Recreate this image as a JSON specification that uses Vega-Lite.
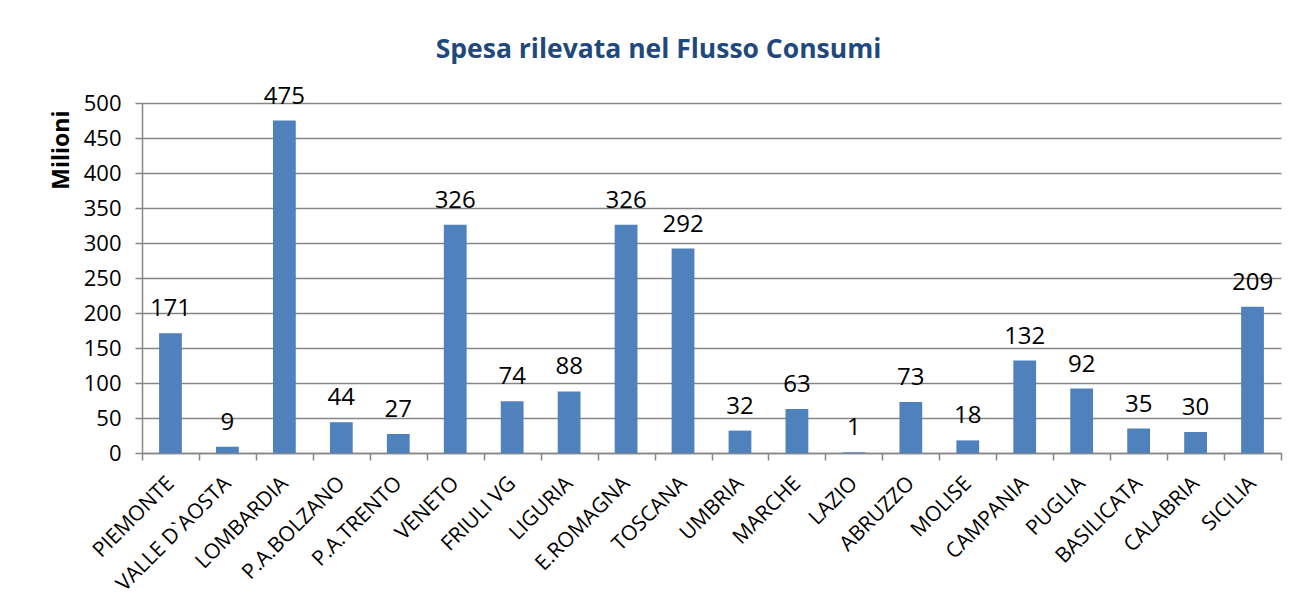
{
  "$schema": "https://vega.github.io/schema/vega-lite/v6.json",
  "width": 1139,
  "height": 350,
  "autosize": "none",
  "padding": {"left": 142, "top": 103, "right": 16, "bottom": 154},
  "background": "white",
  "config": {
    "font": "Open Sans",
    "view": {"stroke": null}
  },
  "title": {
    "text": "Spesa rilevata nel Flusso Consumi",
    "font": "Open Sans",
    "fontSize": 26.5,
    "fontWeight": "bold",
    "color": "#1F497D",
    "frame": "group",
    "anchor": "middle",
    "dx": -53,
    "offset": 21
  },
  "data": {
    "values": [
      {"regione": "PIEMONTE", "spesa": 171},
      {"regione": "VALLE D`AOSTA", "spesa": 9},
      {"regione": "LOMBARDIA", "spesa": 475},
      {"regione": "P.A.BOLZANO", "spesa": 44},
      {"regione": "P.A.TRENTO", "spesa": 27},
      {"regione": "VENETO", "spesa": 326},
      {"regione": "FRIULI VG", "spesa": 74},
      {"regione": "LIGURIA", "spesa": 88},
      {"regione": "E.ROMAGNA", "spesa": 326},
      {"regione": "TOSCANA", "spesa": 292},
      {"regione": "UMBRIA", "spesa": 32},
      {"regione": "MARCHE", "spesa": 63},
      {"regione": "LAZIO", "spesa": 1},
      {"regione": "ABRUZZO", "spesa": 73},
      {"regione": "MOLISE", "spesa": 18},
      {"regione": "CAMPANIA", "spesa": 132},
      {"regione": "PUGLIA", "spesa": 92},
      {"regione": "BASILICATA", "spesa": 35},
      {"regione": "CALABRIA", "spesa": 30},
      {"regione": "SICILIA", "spesa": 209}
    ]
  },
  "encoding": {
    "x": {
      "field": "regione",
      "type": "nominal",
      "sort": null,
      "scale": {"paddingInner": 0, "paddingOuter": 0},
      "axis": {
        "title": null,
        "labelAngle": -45,
        "labelAlign": "right",
        "labelBaseline": "middle",
        "labelFontSize": 21,
        "labelColor": "#000000",
        "labelPadding": 20,
        "labelOverlap": false,
        "tickBand": "extent",
        "tickSize": 7,
        "tickColor": "#868686",
        "tickWidth": 1.5,
        "domainColor": "#868686",
        "domainWidth": 1.5,
        "grid": false
      }
    },
    "y": {
      "field": "spesa",
      "type": "quantitative",
      "scale": {"domain": [0, 500], "nice": false},
      "axis": {
        "title": "Milioni",
        "titleFontSize": 23,
        "titleFontWeight": "bold",
        "titleColor": "#000000",
        "titleAnchor": "end",
        "titleY": 7,
        "titlePadding": 10,
        "values": [0, 50, 100, 150, 200, 250, 300, 350, 400, 450, 500],
        "labelFontSize": 22,
        "labelColor": "#000000",
        "labelPadding": 14,
        "tickSize": 7,
        "tickColor": "#868686",
        "tickWidth": 1.5,
        "domainColor": "#868686",
        "domainWidth": 1.5,
        "gridColor": "#868686",
        "gridWidth": 1.5
      }
    }
  },
  "layer": [
    {
      "mark": {"type": "bar", "color": "#4F81BD", "width": {"band": 0.4}}
    },
    {
      "mark": {"type": "text", "fontSize": 24, "baseline": "alphabetic", "dy": -17, "color": "#000000"},
      "encoding": {"text": {"field": "spesa", "type": "quantitative"}}
    }
  ]
}
